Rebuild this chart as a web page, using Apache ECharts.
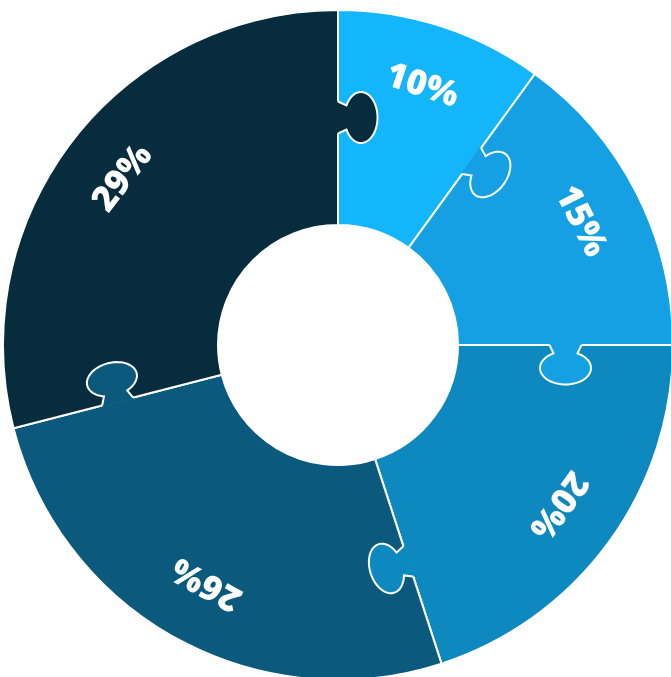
<!DOCTYPE html>
<html>
<head>
<meta charset="utf-8">
<script src="https://cdn.jsdelivr.net/npm/echarts@6/dist/echarts.min.js"></script>
<style>html,body{margin:0;padding:0;background:#fff}#chart{width:671px;height:677px}</style>
</head>
<body>
<div id="chart"></div>
<script>
const categories = ['A', 'B', 'C', 'D', 'E'];
const values = [10, 15, 20, 26, 29];
const labels = ['10%', '15%', '20%', '26%', '29%'];
const colors = ['#13b6fb', '#14a0e3', '#0e89bf', '#0b5a7e', '#062c3e'];
// puzzle tabs: boundary (index of slice that starts there), fill slice, direction (+1 clockwise)
const tabBoundary = [0, 1, 2, 3, 4];
const tabOwner = [4, 1, 1, 2, 3];
const tabDir = [1, 1, 1, 1, 1];

const CENTER = [338, 345];
const R_IN = 120, R_OUT = 335;
const R_MID = (R_IN + R_OUT) / 2;
const R_LABEL = 272;

const starts = [];
let acc = 0;
values.forEach(v => { starts.push(acc); acc += v; });
const total = acc;

const tabData = tabBoundary.map((b, i) => ({ value: [R_MID, starts[b], tabDir[i], tabOwner[i]] }));
const labelData = values.map((v, i) => ({ value: [R_LABEL, starts[i] + v / 2, i] }));

function norm(v) { const l = Math.hypot(v[0], v[1]); return [v[0] / l, v[1] / l]; }

function renderTab(params, api) {
  const b = api.value(1), dir = api.value(2), owner = api.value(3);
  const O = api.coord([0, b]);
  const P = api.coord([R_MID, b]);
  const Q = api.coord([R_MID, b + 0.5 * dir]);
  const u = norm([P[0] - O[0], P[1] - O[1]]);
  let t = norm([Q[0] - P[0], Q[1] - P[1]]);
  const d0 = t[0] * u[0] + t[1] * u[1];
  t = norm([t[0] - d0 * u[0], t[1] - d0 * u[1]]);
  const D = 23, A = 16.5, B = 25.5, NECK0 = 16, NECK1 = 12;
  const pt = (ot, ou) => [P[0] + t[0] * ot + u[0] * ou, P[1] + t[1] * ot + u[1] * ou];
  const alpha = Math.asin(NECK1 / B);
  const arc = [];
  const N = 48;
  for (let k = 0; k <= N; k++) {
    const psi = alpha + (2 * Math.PI - 2 * alpha) * k / N;
    arc.push(pt(D - A * Math.cos(psi), B * Math.sin(psi)));
  }
  const outline = [pt(0, NECK0)].concat(arc).concat([pt(0, -NECK0)]);
  const fillPts = [pt(-1.5, NECK0)].concat(outline).concat([pt(-1.5, -NECK0)]);
  return {
    type: 'group',
    children: [
      { type: 'polygon', shape: { points: fillPts }, style: { fill: colors[owner], stroke: null } },
      { type: 'polyline', shape: { points: outline }, style: { fill: null, stroke: '#ffffff', lineWidth: 2 } }
    ]
  };
}

function renderLabel(params, api) {
  const mid = api.value(1), idx = api.value(2);
  const P = api.coord([R_LABEL, mid]);
  return {
    type: 'text',
    x: P[0], y: P[1],
    rotation: -mid / total * 2 * Math.PI,
    style: {
      text: labels[idx],
      fill: '#ffffff',
      font: '800 35px "Open Sans", sans-serif',
      align: 'center',
      verticalAlign: 'middle'
    }
  };
}

const chart = echarts.init(document.getElementById('chart'), null, { renderer: 'canvas' });
chart.setOption({
  animation: false,
  backgroundColor: '#ffffff',
  polar: { center: CENTER, radius: R_OUT },
  angleAxis: { type: 'value', min: 0, max: total, startAngle: 90, clockwise: true, show: false },
  radiusAxis: { type: 'value', min: 0, max: R_OUT, show: false },
  series: [
    {
      type: 'pie',
      center: CENTER,
      radius: [R_IN, R_OUT],
      startAngle: 90,
      clockwise: true,
      silent: true,
      z: 2,
      label: { show: false },
      labelLine: { show: false },
      itemStyle: { borderColor: '#ffffff', borderWidth: 2 },
      data: values.map((v, i) => ({ name: categories[i], value: v, itemStyle: { color: colors[i] } }))
    },
    {
      type: 'custom',
      coordinateSystem: 'polar',
      silent: true,
      z: 3,
      renderItem: renderTab,
      data: tabData
    },
    {
      type: 'custom',
      coordinateSystem: 'polar',
      silent: true,
      z: 4,
      renderItem: renderLabel,
      data: labelData
    }
  ]
});
</script>
</body>
</html>
